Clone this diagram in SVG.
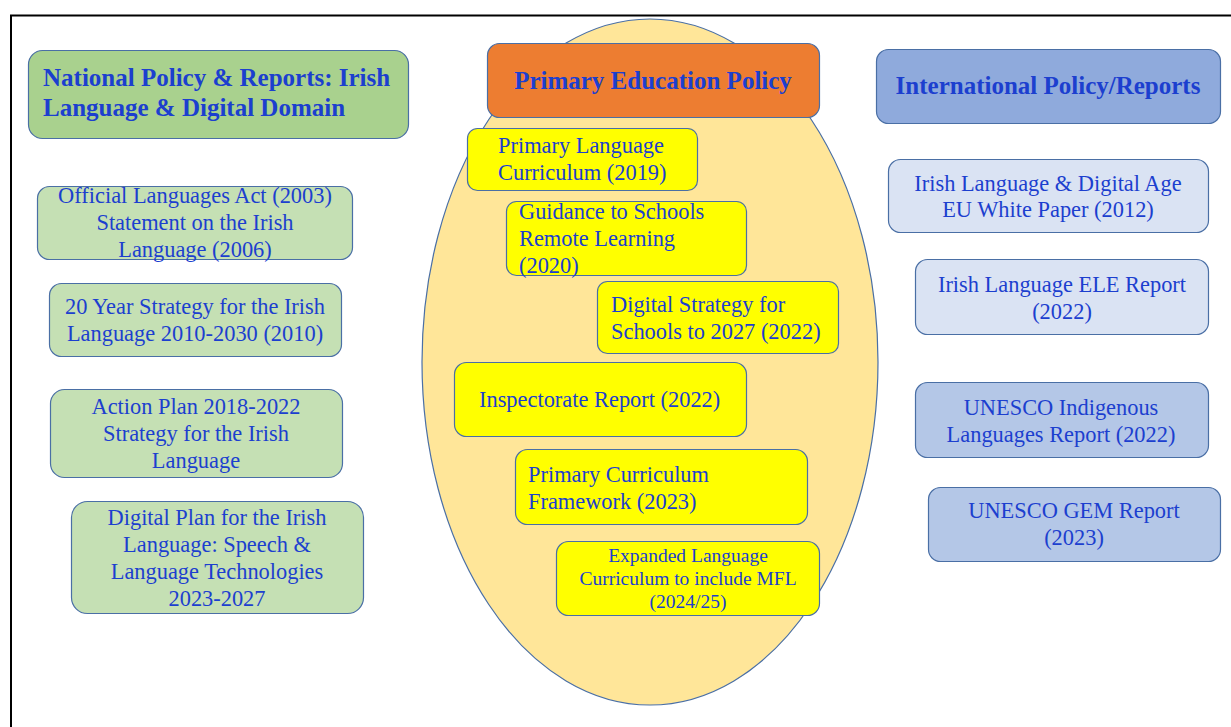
<svg xmlns="http://www.w3.org/2000/svg" width="1231" height="727" viewBox="0 0 1231 727">
  <style>
    .box { stroke: #4a6fa5; stroke-width: 1.2; }
    .t { font-family: "Liberation Serif", "Times New Roman", serif; fill: #1c3fcf; font-size: 22.4px; }
    .tb { font-family: "Liberation Serif", "Times New Roman", serif; fill: #1c3fcf; font-size: 25px; font-weight: bold; }
    .ts { font-size: 19.5px; }
    .c { text-anchor: middle; }
    .g1 { fill: #a9d18e; }
    .g2 { fill: #c5e0b4; }
    .y { fill: #ffff00; }
    .o { fill: #ed7d31; }
    .b1 { fill: #8faadc; }
    .b2 { fill: #dae3f3; }
    .b3 { fill: #b4c7e7; }
  </style>
  <rect width="1231" height="727" fill="#ffffff"/>

  <!-- page frame: top and left edges -->
  <path d="M10 15.5 H1231 M11 15 V727" stroke="#000" stroke-width="2" fill="none"/>

  <!-- central ellipse -->
  <ellipse id="primary-area" cx="650" cy="362" rx="228" ry="343" fill="#ffe699" stroke="#4a6fa5" stroke-width="1.2"/>

  <g id="connectors"></g>

  <!-- left column: national policy -->
  <g id="national-header">
    <rect class="box g1" x="28.5" y="50.5" width="380" height="88" rx="14"/>
    <text class="tb" x="43" y="86">National Policy &amp; Reports: Irish</text>
    <text class="tb" x="43" y="116">Language &amp; Digital Domain</text>
  </g>
  <g id="official-languages">
    <rect class="box g2" x="37.5" y="186.5" width="315" height="73" rx="12"/>
    <text class="t c" x="195" y="203">Official Languages Act (2003)</text>
    <text class="t c" x="195" y="230">Statement on the Irish</text>
    <text class="t c" x="195" y="257">Language (2006)</text>
  </g>
  <g id="twenty-year-strategy">
    <rect class="box g2" x="49.5" y="283.5" width="292" height="73" rx="12"/>
    <text class="t c" x="195" y="314">20 Year Strategy for the Irish</text>
    <text class="t c" x="195" y="341">Language 2010-2030 (2010)</text>
  </g>
  <g id="action-plan">
    <rect class="box g2" x="50.5" y="389.5" width="292" height="88" rx="14"/>
    <text class="t c" x="196" y="414">Action Plan 2018-2022</text>
    <text class="t c" x="196" y="441">Strategy for the Irish</text>
    <text class="t c" x="196" y="468">Language</text>
  </g>
  <g id="digital-plan">
    <rect class="box g2" x="71.5" y="501.5" width="292" height="112" rx="16"/>
    <text class="t c" x="217" y="525">Digital Plan for the Irish</text>
    <text class="t c" x="217" y="552">Language: Speech &amp;</text>
    <text class="t c" x="217" y="579">Language Technologies</text>
    <text class="t c" x="217" y="606">2023-2027</text>
  </g>

  <!-- centre column: primary education -->
  <g id="primary-header">
    <rect class="box o" x="487.5" y="43.5" width="332" height="74" rx="12"/>
    <text class="tb c" x="653" y="89">Primary Education Policy</text>
  </g>
  <g id="primary-language-curriculum">
    <rect class="box y" x="467.5" y="128.5" width="230" height="62" rx="10"/>
    <text class="t" x="498" y="153">Primary Language</text>
    <text class="t" x="498" y="180">Curriculum (2019)</text>
  </g>
  <g id="remote-learning">
    <rect class="box y" x="506.5" y="201.5" width="240" height="74" rx="10"/>
    <text class="t" x="519" y="219">Guidance to Schools</text>
    <text class="t" x="519" y="246">Remote Learning</text>
    <text class="t" x="519" y="273">(2020)</text>
  </g>
  <g id="digital-strategy">
    <rect class="box y" x="597.5" y="281.5" width="241" height="72" rx="10"/>
    <text class="t" x="611" y="312">Digital Strategy for</text>
    <text class="t" x="611" y="339">Schools to 2027 (2022)</text>
  </g>
  <g id="inspectorate-report">
    <rect class="box y" x="454.5" y="362.5" width="292" height="74" rx="12"/>
    <text class="t" x="479" y="407">Inspectorate Report (2022)</text>
  </g>
  <g id="curriculum-framework">
    <rect class="box y" x="515.5" y="449.5" width="292" height="75" rx="12"/>
    <text class="t" x="528" y="482">Primary Curriculum</text>
    <text class="t" x="528" y="509">Framework (2023)</text>
  </g>
  <g id="expanded-language">
    <rect class="box y" x="556.5" y="541.5" width="263" height="74" rx="12"/>
    <text class="t ts c" x="688" y="562">Expanded Language</text>
    <text class="t ts c" x="688" y="585">Curriculum to include MFL</text>
    <text class="t ts c" x="688" y="608">(2024/25)</text>
  </g>

  <!-- right column: international -->
  <g id="international-header">
    <rect class="box b1" x="876.5" y="49.5" width="344" height="74" rx="12"/>
    <text class="tb c" x="1048" y="94">International Policy/Reports</text>
  </g>
  <g id="eu-white-paper">
    <rect class="box b2" x="888.5" y="159.5" width="320" height="73" rx="12"/>
    <text class="t c" x="1048" y="191">Irish Language &amp; Digital Age</text>
    <text class="t c" x="1048" y="217">EU White Paper (2012)</text>
  </g>
  <g id="ele-report">
    <rect class="box b2" x="915.5" y="259.5" width="293" height="75" rx="12"/>
    <text class="t c" x="1062" y="292">Irish Language ELE Report</text>
    <text class="t c" x="1062" y="319">(2022)</text>
  </g>
  <g id="unesco-indigenous">
    <rect class="box b3" x="915.5" y="382.5" width="293" height="75" rx="12"/>
    <text class="t c" x="1061" y="415">UNESCO Indigenous</text>
    <text class="t c" x="1061" y="442">Languages Report (2022)</text>
  </g>
  <g id="unesco-gem">
    <rect class="box b3" x="928.5" y="487.5" width="292" height="74" rx="12"/>
    <text class="t c" x="1074" y="518">UNESCO GEM Report</text>
    <text class="t c" x="1074" y="545">(2023)</text>
  </g>
</svg>
